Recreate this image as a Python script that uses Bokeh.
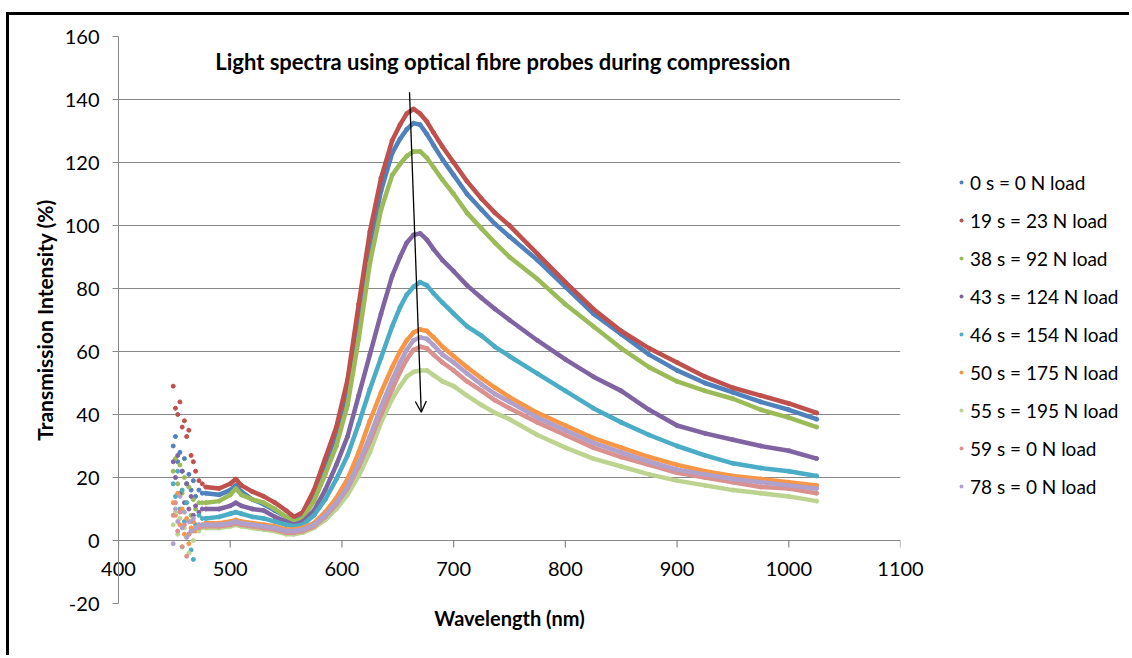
from bokeh.plotting import figure
from bokeh.layouts import row
from bokeh.models import (Legend, LegendItem, Label, Arrow, OpenHead, FixedTicker, Range1d)
from bokeh.embed import file_html
from bokeh.resources import INLINE

# ---------------- data ----------------
series_names = ["0 s = 0 N load", "19 s = 23 N load", "38 s = 92 N load", "43 s = 124 N load",
                "46 s = 154 N load", "50 s = 175 N load", "55 s = 195 N load", "59 s = 0 N load",
                "78 s = 0 N load"]
series_colors = ["#4F81BD", "#C0504D", "#9BBB59", "#8064A2", "#4BACC6", "#F79646",
                 "#BCD48F", "#D9928F", "#B0A1CC"]

x_ticks = [400, 500, 600, 700, 800, 900, 1000, 1100]
y_ticks = [-20, 0, 20, 40, 60, 80, 100, 120, 140, 160]

# noisy start of the spectra (scattered points)
wl_noise = [449, 451, 453, 455, 457, 459, 461, 463, 465, 467, 469, 472, 475]
noise_0s = [30, 33, 25, 28, 22, 26, 18, 21, 16, 19, 14, 16, 15]
noise_19s = [49, 42, 40, 44, 36, 38, 33, 35, 27, 25, 22, 19, 18]
noise_38s = [22, 26, 18, 24, 15, 20, 12, 17, 8, 13, 10, 12, 12]
noise_43s = [25, 20, 27, 15, 22, 12, 18, 10, 14, 8, 11, 9, 10]
noise_46s = [18, 14, 22, 10, 16, 6, 12, 2, -3, -6, 5, 8, 7]
noise_50s = [12, 8, 15, 5, 10, 2, 7, -1, 4, 6, 3, 5, 5]
noise_55s = [5, 9, 2, 7, -2, 4, 1, -4, 3, 0, 4, 3, 4]
noise_59s = [8, 12, 3, 9, -2, 5, -5, 2, 6, 3, 4, 4, 4.5]
noise_78s = [-1, 10, 6, 14, 4, 9, 1, 6, 3, 7, 4, 5, 5]

# main part of the spectra
wl_main = [478, 490, 500, 505, 510, 520, 530, 540, 550, 557,
           565, 575, 585, 595, 605, 615, 625, 635, 645,
           652, 658, 664, 670, 676, 682, 690, 700, 712, 725, 737,
           750, 775, 800, 825, 850, 875, 900, 925, 950, 975, 1000, 1025]
main_0s = [15, 14.5, 16, 17.5, 15.5, 13, 11.5, 9.5, 7.5, 6.5,
           8, 14.5, 24, 34, 48, 71, 94, 111, 123,
           127.5, 130.5, 132.5, 132, 129, 125.5, 121, 116, 110, 105, 100.5,
           96.5, 89, 80.5, 72, 65.5, 59, 54, 50, 47, 44, 41.5, 38.5]
main_19s = [17, 16.5, 18, 19.5, 17.5, 15.5, 14, 12, 9.5, 7.5,
            9, 16, 26, 36, 51, 75, 98, 115, 127,
            132, 135.5, 137, 135.5, 133, 129.5, 125, 120, 114, 108.5, 104,
            100, 91, 82, 73.5, 66.5, 61, 56.5, 52, 48.5, 46, 43.5, 40.5]
main_38s = [12, 12.5, 14.5, 16.5, 14.5, 13, 12, 10, 7.5, 6,
            7, 12.5, 21, 30, 43, 64, 88, 105, 116,
            119.5, 122, 123.5, 123.5, 121.5, 118.5, 114.5, 110, 104, 99, 94.5,
            90, 83, 75, 68, 61, 55, 50.5, 47.5, 45, 41.5, 39, 36]
main_43s = [10, 10, 11, 12, 11, 10, 9.5, 7.5, 6, 5,
            6, 9.5, 16, 24, 33, 46, 59, 72, 84,
            90, 94.5, 97, 97.5, 95.5, 92.5, 89, 85.5, 81, 77, 73.5,
            70, 63.5, 57.5, 52, 47.5, 41.5, 36.5, 34, 32, 30, 28.5, 26]
main_46s = [7, 7.5, 8.5, 9, 8.5, 7.5, 7, 6, 5, 4.5,
            5, 8, 13, 19.5, 27, 37, 48, 58, 68,
            74, 78, 80.5, 82, 81, 78.5, 75.5, 72, 68, 65, 61.5,
            58.5, 53, 47.5, 42, 37.5, 33.5, 30, 27, 24.5, 23, 22, 20.5]
main_50s = [5.5, 5.5, 6, 6.5, 6, 5.5, 5, 4.5, 3.5, 3.5,
            4, 5.5, 9, 13.5, 19.5, 28, 38, 47, 55,
            60, 63.5, 66, 67, 66.5, 64.5, 61.5, 58.5, 55, 51.5, 48.5,
            45.5, 40.5, 36.5, 32.5, 29.5, 26.5, 24, 22, 20.5, 19.5, 18.5, 17.5]
main_55s = [4, 4, 4.5, 5, 4.5, 4, 3.5, 3, 2, 2,
            2.5, 4, 6.5, 10, 14.5, 20.5, 28, 37.5, 45,
            49, 52, 53.5, 54, 54, 52.5, 50.5, 49, 46, 43, 40.5,
            38.5, 33.5, 29.5, 26, 23.5, 21, 19, 17.5, 16, 15, 14, 12.5]
main_59s = [4.5, 4.5, 5, 5.5, 5, 4.5, 4, 3.5, 2.5, 2.5,
            3, 4.5, 7.5, 11.5, 16.5, 23.5, 31.5, 40, 48,
            53.5, 57.5, 60.5, 61.5, 61, 59, 56.5, 54, 50.5, 47.5, 44.5,
            42, 37.5, 33.5, 29.5, 26.5, 24, 21.5, 20, 18.5, 17, 16.5, 15]
main_78s = [5, 5, 5.5, 6, 5.5, 5, 4.5, 4, 3, 3,
            3.5, 5, 8, 12, 17, 24.5, 33, 42.5, 51,
            56.5, 60.5, 63.5, 64.5, 64, 62, 59, 56.5, 53, 49.5, 46.5,
            44, 39, 35, 31, 28, 25, 22.5, 21, 19.5, 18.5, 17.5, 16.5]

noise_all = [noise_0s, noise_19s, noise_38s, noise_43s, noise_46s, noise_50s, noise_55s, noise_59s, noise_78s]
main_all = [main_0s, main_19s, main_38s, main_43s, main_46s, main_50s, main_55s, main_59s, main_78s]

title_text = "Light spectra using optical fibre probes during compression"
x_title = "Wavelength (nm)"
y_title = "Transmission Intensity (%)"

# ---------------- main figure ----------------
FONT = "Lato"
TXT = "#000000"
GRID = "#888888"
H = 640

p = figure(width=921, height=H, x_range=Range1d(400, 1100), y_range=Range1d(-20, 160),
           output_backend="svg", toolbar_location=None,
           min_border_left=109, min_border_right=30, min_border_top=21, min_border_bottom=52)
p.outline_line_color = None
p.background_fill_color = "white"
p.border_fill_color = "white"

# y axis
p.yaxis.ticker = FixedTicker(ticks=y_ticks)
p.yaxis.major_label_overrides = {t: str(t) for t in y_ticks}
p.yaxis.minor_tick_line_color = None
p.yaxis.axis_line_color = GRID
p.yaxis.major_tick_line_color = GRID
p.yaxis.major_tick_in = 0
p.yaxis.major_tick_out = 6
p.yaxis.major_label_standoff = 13
p.yaxis.major_label_text_font = FONT
p.yaxis.major_label_text_font_size = "20px"
p.yaxis.major_label_text_color = TXT
p.yaxis.axis_label = y_title
p.yaxis.axis_label_text_font = FONT
p.yaxis.axis_label_text_font_style = "bold"
p.yaxis.axis_label_text_font_size = "21px"
p.yaxis.axis_label_text_color = TXT
p.yaxis.axis_label_standoff = 5

# x axis: tick labels pulled up to sit under the y = 0 line
p.xaxis.ticker = FixedTicker(ticks=x_ticks)
p.xaxis.axis_line_color = None
p.xaxis.major_tick_line_color = None
p.xaxis.minor_tick_line_color = None
p.xaxis.major_tick_in = 0
p.xaxis.major_tick_out = 0
p.xaxis.major_label_standoff = -42
p.xaxis.major_label_text_font = FONT
p.xaxis.major_label_text_font_size = "20px"
p.xaxis.major_label_text_color = TXT
p.xaxis.axis_label = x_title
p.xaxis.axis_label_text_font = FONT
p.xaxis.axis_label_text_font_style = "bold"
p.xaxis.axis_label_text_font_size = "20px"
p.xaxis.axis_label_text_color = TXT
p.xaxis.axis_label_standoff = 27

p.xgrid.grid_line_color = None
p.ygrid.grid_line_color = GRID
p.ygrid.grid_line_width = 1.2

# x tick marks on the y = 0 line
p.segment(x0=x_ticks, y0=[0] * len(x_ticks), x1=x_ticks, y1=[-2.2] * len(x_ticks),
          line_color=GRID, line_width=1.2)

# series
for name, col, nz, mn in zip(series_names, series_colors, noise_all, main_all):
    p.line(x=wl_main, y=mn, line_color=col, line_width=4.5)
    p.scatter(x=wl_noise, y=nz, size=4, marker="circle", fill_color=col, line_color=col)
    p.scatter(x=wl_main, y=mn, size=4, marker="circle", fill_color=col, line_color=col)

# title inside the plot
p.add_layout(Label(x=744, y=152.1, text=title_text, text_align="center", text_baseline="middle",
                   text_font=FONT, text_font_style="bold", text_font_size="22px", text_color=TXT))

# arrow
arrow_start = (660.5, 142.3)
arrow_end = (671, 40.7)
p.add_layout(Arrow(end=OpenHead(size=11, line_width=1.3, line_color="black"),
                   x_start=arrow_start[0], y_start=arrow_start[1],
                   x_end=arrow_end[0], y_end=arrow_end[1],
                   line_color="black", line_width=1.3))

# ---------------- legend panel (same series, outside its visible ranges) ----------------
q = figure(width=199, height=H, output_backend="svg", toolbar_location=None,
           x_axis_location=None, y_axis_location=None, min_border=0,
           x_range=Range1d(0, 1), y_range=Range1d(0, 1))
q.outline_line_color = None
q.grid.visible = False
items = []
for name, col, mn in zip(series_names, series_colors, main_all):
    r = q.scatter(x=wl_main, y=mn, size=3, marker="circle", fill_color=col, line_color=None)
    items.append(LegendItem(label=name, renderers=[r]))
legend = Legend(items=items, location=(26, 105), label_text_font=FONT,
                label_text_font_size="19px", label_text_color=TXT,
                label_height=24, glyph_height=24, glyph_width=10, spacing=14,
                padding=0, margin=0, border_line_color=None, background_fill_alpha=0,
                label_standoff=4)
q.add_layout(legend)

layout = row(p, q)
layout.styles = {"margin-left": "6px", "margin-top": "12px",
                 "border-left": "3px solid black", "border-top": "3px solid black"}

open("out.html", "w").write(file_html(layout, INLINE))
